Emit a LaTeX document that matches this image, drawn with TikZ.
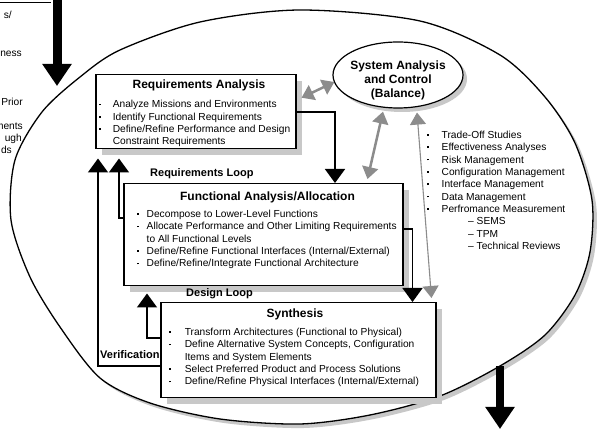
\documentclass[tikz,border=0pt]{standalone}
\usepackage{fontspec}
\setmainfont{Liberation Sans}
\usetikzlibrary{arrows.meta,shapes.geometric,calc}
\definecolor{shadowgray}{RGB}{200,200,200}
\definecolor{arrowgray}{RGB}{140,140,140}
\newcommand\bulit[1][14pt]{\makebox[#1][l]{\hspace{0.6pt}\raisebox{2.7pt}{\rule{1.7pt}{1.7pt}}}}
\begin{document}
\begin{tikzpicture}[x=1pt,y=-1pt,
  box/.style={draw=black, line width=1.5pt, fill=white, inner sep=0pt, anchor=north west},
  shadowbox/.style={fill=shadowgray, draw=none, inner sep=0pt, anchor=north west},
  ttl/.style={font=\fontsize{12}{14}\selectfont\bfseries, anchor=base, inner sep=0pt},
  lst/.style={font=\fontsize{10.2}{12.35}\selectfont, align=left, anchor=base west, inner sep=0pt},
  lbl/.style={font=\fontsize{11}{13}\selectfont\bfseries, anchor=base west, inner sep=0pt},
  frag/.style={font=\fontsize{10.2}{12}\selectfont, anchor=base east, inner sep=0pt},
  flow/.style={draw=black, line width=1.6pt, -{Triangle[width=20pt,length=14pt]}},
  ctrl/.style={draw=arrowgray, line width=2.5pt, {Triangle[width=16pt,length=12pt]}-{Triangle[width=16pt,length=12pt]}},
  ctrlthin/.style={draw=arrowgray, line width=1.1pt, {Triangle[width=16pt,length=12pt]}-{Triangle[width=16pt,length=12pt]}},
  bigarrow/.style={draw=black, line width=9pt, -{Triangle[width=28pt,length=22pt]}},
]
\useasboundingbox (0,0) rectangle (598,435);
% big ellipse with shadow
\fill[shadowgray, shift={(4,4)}] plot[smooth cycle] coordinates {(15,160) (42,112) (80,77) (120,50) (200,22) (300,10) (420,21) (500,55) (545,97) (575,143) (592,200) (590,252) (575,295) (545,335) (500,366) (440,396) (370,415) (300,424) (220,419) (150,403) (100,378) (60,327) (30,277) (11,220)};
\draw[line width=1.3pt, fill=white] plot[smooth cycle] coordinates {(15,160) (42,112) (80,77) (120,50) (200,22) (300,10) (420,21) (500,55) (545,97) (575,143) (592,200) (590,252) (575,295) (545,335) (500,366) (440,396) (370,415) (300,424) (220,419) (150,403) (100,378) (60,327) (30,277) (11,220)};

% fragment of previous box (top left)
\draw[line width=0.8pt] (-5,2) -- (51,2);
\node[frag] (f1) at (12,18.5) {s/};
\node[frag] (f2) at (22,56.5) {ness};
\node[frag] (f3) at (23,105.5) {Prior};
\node[frag] (f4) at (23,129.5) {ments};
\node[frag] (f5) at (22,141.5) {ugh};
\node[frag] (f6) at (12,153.5) {ds};

% big arrows
\coordinate (tlstart) at (57,-5);
\coordinate (tlend) at (57,86);
\draw[bigarrow] (tlstart) -- (tlend);
\coordinate (brstart) at (500,366);
\coordinate (brend) at (500,429);
\draw[bigarrow, line width=8pt] (brstart) -- (brend);

% Requirements Analysis box
\node[shadowbox, minimum width=200pt, minimum height=74pt] (rash) at (102,81) {};
\node[box, minimum width=200pt, minimum height=74pt] (ra) at (95,74) {};
\node[ttl] (ratitle) at (199,89) {Requirements Analysis};
\node[lst] (ralist) at (98.6,145) {\bulit Analyze Missions and Environments\\
\bulit Identify Functional Requirements\\
\bulit Define/Refine Performance and Design\\
\hspace*{14pt}Constraint Requirements};

% Functional Analysis box
\node[shadowbox, minimum width=279pt, minimum height=102pt] (fash) at (130,190) {};
\node[box, minimum width=279pt, minimum height=102pt] (fa) at (123,183) {};
\node[ttl] (fatitle) at (267.5,201) {Functional Analysis/Allocation};
\node[lst] (falist) at (136,267) {\bulit[10.5pt]Decompose to Lower-Level Functions\\
\bulit[10.5pt]Allocate Performance and Other Limiting Requirements\\
\hspace*{10.5pt}to All Functional Levels\\
\bulit[10.5pt]Define/Refine Functional Interfaces (Internal/External)\\
\bulit[10.5pt]Define/Refine/Integrate Functional Architecture};

% Synthesis box
\node[shadowbox, minimum width=275pt, minimum height=95pt] (synsh) at (167,309) {};
\node[box, minimum width=275pt, minimum height=95pt] (syn) at (160,302) {};
\node[ttl] (syntitle) at (295,317.5) {Synthesis};
\node[lst] (synlist) at (168.6,385) {\bulit[16pt]Transform Architectures (Functional to Physical)\\
\bulit[16pt]Define Alternative System Concepts, Configuration\\
\hspace*{16pt}Items and System Elements\\
\bulit[16pt]Select Preferred Product and Process Solutions\\
\bulit[16pt]Define/Refine Physical Interfaces (Internal/External)};

% System Analysis and Control ellipse
\node[ellipse, fill=shadowgray, minimum width=130pt, minimum height=66pt, inner sep=0pt] (sacsh) at (402,79) {};
\node[ellipse, draw, line width=1.2pt, fill=white, minimum width=130pt, minimum height=66pt, inner sep=0pt] (sac) at (398,75) {};
\node[font=\fontsize{12}{14}\selectfont\bfseries, align=center, anchor=base, inner sep=0pt] (sactext) at (398,97.3) {System Analysis\\and Control\\(Balance)};

% right list
\node[lst] (tools) at (426,249.6) {\bulit[15.5pt]Trade-Off Studies\\
\bulit[15.5pt]Effectiveness Analyses\\
\bulit[15.5pt]Risk Management\\
\bulit[15.5pt]Configuration Management\\
\bulit[15.5pt]Interface Management\\
\bulit[15.5pt]Data Management\\
\bulit[15.5pt]Perfromance Measurement\\
\hspace*{42pt}-- SEMS\\
\hspace*{42pt}-- TPM\\
\hspace*{42pt}-- Technical Reviews};

% loop labels
\node[lbl] (reqloop) at (150,177) {Requirements Loop};
\node[lbl] (desloop) at (186,297) {Design Loop};
\node[lbl] (verif) at (100,359) {Verification};

% black flow connectors
\draw[flow] (ra.east) -| ($(fa.north west)+(212,0)$);
\draw[flow] ($(fa.west)+(0,-17)$) -| ($(ra.south west)+(24,9)$);
\draw[flow] ($(syn.west)+(0,15.5)$) -| ($(ra.south west)+(3,9)$);
\draw[flow] ($(syn.west)+(0,-12.5)$) -| ($(fa.south west)+(24,7)$);
\draw[flow] ($(fa.east)+(0,-6)$) -| ($(syn.north east)+(-24,0)$);

% gray control connectors
\draw[ctrl] ($(ra.east)+(5,-14)$) -- ($(sac.west)+(2,7)$);
\draw[ctrl] ($(fa.north east)+(-36,-4)$) -- ($(sac.south)+(-15,3)$);
\draw[ctrlthin] ($(sac.south)+(19,4)$) -- ($(syn.north east)+(-5,-4)$);
\end{tikzpicture}
\end{document}
